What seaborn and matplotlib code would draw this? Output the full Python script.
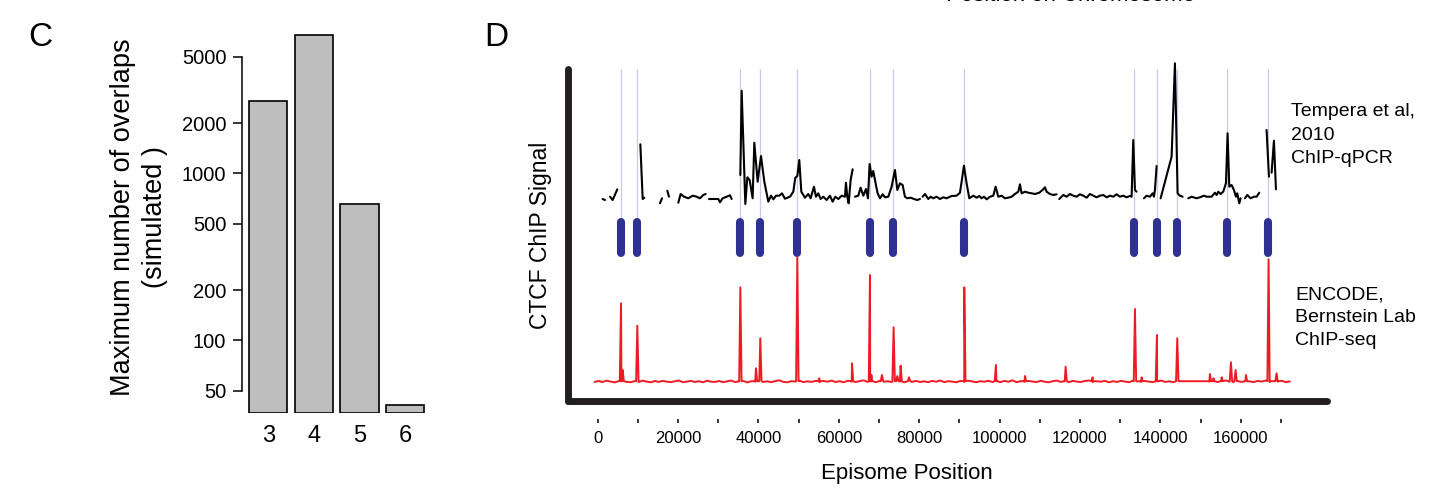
import numpy as np
import pandas as pd
import matplotlib
matplotlib.use("Agg")
import matplotlib.pyplot as plt
from matplotlib.ticker import NullLocator
import seaborn as sns

# ---------------- Panel C data ----------------
overlap_k = ["3", "4", "5", "6"]
max_overlaps = [2700, 6750, 660, 41]
c_yticks = [50, 100, 200, 500, 1000, 2000, 5000]

# ---------------- Panel D data ----------------
# CTCF site positions (kb)
ctcf_sites_kb = [5.87, 9.85, 35.48, 40.46, 49.66, 67.67, 73.55, 91.06,
                 133.51, 139.08, 144.06, 156.50, 166.85]

nan = np.nan
# Tempera et al 2010 ChIP-qPCR (positions in kb, NaN = gap between segments)
qpcr_pos_kb = [
    1.23, 1.82, nan,
    3.06, 3.72, 4.88, nan,
    10.61, 11.19, 11.60, nan,
    15.50, 16.00, nan,
    17.32, 17.74, nan,
    20.06, 20.64, 21.47, 22.55, 23.63, 24.62, 25.45, 26.28, 26.86, nan,
    27.69, 30.01, 30.43, 31.09, 32.09, 32.92, 33.33, nan,
    35.49, 35.82, 36.73, 37.23, 37.81, 38.55, 38.97, 39.80, 40.63, 41.46,
    42.45, 43.12, 43.70, 44.36, 45.19, 45.85, 46.60, 47.84, 48.67, 49.17,
    49.67, 50.16, 50.66, 51.57, 52.40, 52.98, 53.81, 54.31, 54.89, 55.47,
    56.13, 56.96, 57.79, 58.46, 59.12, 59.87, 60.70, 61.53, 61.77, 62.10,
    62.44, 62.94, 63.43, nan,
    64.01, 64.84, 65.42, 66.09, 66.75, 67.25, 67.66, 68.16, 68.57, 69.07,
    69.65, 70.23, 70.90, 71.48, 72.31, 73.13, 73.96, 74.55, 75.21, 75.87,
    76.45, 77.03, 77.86, 78.69, 79.52, 80.18, nan,
    80.85, 81.43, 82.26, 82.84, 83.50, 84.33, 85.16, 85.99, 86.82, 88.06,
    89.31, 90.14, 90.55, 91.13, 91.79, 92.46, 93.45, 94.28, 94.94, 95.52,
    96.11, 96.77, 97.60, 98.43, 99.01, 99.67, 100.50, 101.33, 102.16, 103.00,
    103.82, 104.65, 105.07, 105.48, 106.31, 107.14, 107.97, 108.80, 109.88, 110.87,
    111.29, 111.70, 112.53, 113.36, 114.19, nan,
    114.85, 115.85, 116.68, 117.51, 118.34, 119.16, 119.99, 120.82, 121.65, 122.48,
    123.31, 124.14, 124.97, 125.80, 126.63, 127.46, 128.28, 129.12, 129.94, 130.77,
    131.60, 132.43, 132.85, 133.26, 133.68, 134.09, nan,
    135.92, 136.58, 137.41, 138.08, 138.41, 138.65, 139.07, nan,
    140.06, 142.80, 143.63, 144.29, 144.87, 145.54, nan,
    146.95, 147.78, 149.02, 149.85, 150.84, 151.51, 152.75, 153.58, 154.00, 154.41,
    154.99, 155.65, 156.32, 156.73, 157.15, 157.73, 158.31, 158.81, 159.14, 159.64,
    159.97, nan,
    161.04, 161.63, 162.45, 163.28, 163.95, 164.61, nan,
    166.43, 167.02, nan,
    167.68, 168.26, 168.76,
]
qpcr_signal = [
    1.10, 1.00, nan,
    1.33, 1.00, 2.07, nan,
    6.57, 1.10, 1.23, nan,
    0.67, 1.17, nan,
    1.93, 1.33, nan,
    0.73, 1.60, 1.33, 1.17, 1.43, 1.33, 1.17, 1.50, 1.60, nan,
    1.10, 1.10, 0.77, 1.17, 1.33, 1.47, 1.10, nan,
    3.50, 11.93, 0.60, 3.27, 3.00, 1.17, 6.73, 2.83, 5.40, 2.83,
    0.83, 1.43, 1.07, 1.43, 1.43, 1.67, 1.13, 1.33, 1.83, 3.23,
    3.40, 5.00, 1.83, 1.23, 1.60, 1.17, 2.33, 1.33, 1.67, 1.10,
    1.33, 1.00, 1.43, 0.83, 1.33, 1.10, 1.43, 1.33, 2.73, 1.33,
    0.67, 3.00, 4.07, nan,
    1.33, 1.43, 2.23, 1.43, 2.10, 1.17, 4.60, 3.33, 3.90, 2.83,
    1.67, 1.17, 1.57, 1.27, 1.33, 2.33, 4.00, 2.00, 2.67, 2.50,
    1.33, 1.17, 1.23, 1.10, 1.00, 1.10, nan,
    1.33, 1.60, 1.10, 1.33, 1.17, 1.33, 1.10, 1.27, 1.17, 1.40,
    1.43, 1.73, 2.83, 4.43, 2.67, 1.17, 1.43, 1.23, 1.40, 1.17,
    1.33, 1.07, 1.33, 1.43, 2.33, 1.33, 1.43, 1.17, 1.23, 1.33,
    1.60, 1.83, 2.57, 1.67, 1.83, 1.73, 1.67, 1.60, 1.73, 2.07,
    2.27, 1.83, 1.60, 1.50, 1.57, nan,
    1.10, 1.50, 1.33, 1.60, 1.43, 1.33, 1.57, 1.43, 1.23, 1.60,
    1.43, 1.27, 1.43, 1.50, 1.27, 1.43, 1.33, 1.57, 1.33, 1.43,
    1.27, 1.40, 1.33, 7.00, 2.00, 1.83, nan,
    1.17, 1.43, 1.33, 1.67, 1.33, 2.00, 4.40, nan,
    1.17, 5.33, 14.67, 1.67, 1.43, 1.33, nan,
    1.17, 1.33, 1.17, 1.27, 1.43, 1.33, 1.33, 1.73, 1.50, 1.83,
    1.60, 1.83, 2.67, 7.67, 2.33, 2.50, 2.00, 1.33, 1.67, 0.67,
    1.17, nan,
    1.17, 1.50, 1.17, 1.33, 1.33, 1.73, nan,
    8.00, 3.33, nan,
    3.73, 6.93, 2.07,
]

# ENCODE Bernstein Lab ChIP-seq: background read every 1 kb starting at -0.8 kb
seq_bg_start_kb = -0.8
seq_background = [
    0.30, 0.40, 0.30, 0.43, 0.34, 0.26, 0.38, 0.46, 0.31, 0.28,
    0.39, 0.29, 0.44, 0.34, 0.27, 0.40, 0.31, 0.42, 0.33, 0.29,
    0.37, 0.45, 0.28, 0.35, 0.41, 0.30, 0.38, 0.27, 0.43, 0.33,
    0.31, 0.40, 0.28, 0.37, 0.44, 0.29, 0.35, 0.41, 0.26, 0.38,
    0.33, 0.42, 0.30, 0.37, 0.28, 0.40, 0.47, 0.31, 0.27, 0.39,
    0.34, 0.43, 0.29, 0.37, 0.31, 0.41, 0.28, 0.40, 0.33, 0.44,
    0.30, 0.38, 0.27, 0.42, 0.34, 0.29, 0.40, 0.46, 0.31, 0.37,
    0.28, 0.41, 0.33, 0.38, 0.29, 0.44, 0.34, 0.27, 0.40, 0.31,
    0.42, 0.30, 0.37, 0.28, 0.41, 0.33, 0.45, 0.29, 0.38, 0.34,
    0.27, 0.40, 0.31, 0.43, 0.36, 0.28, 0.38, 0.33, 0.42, 0.30,
    0.37, 0.29, 0.41, 0.33, 0.47, 0.28, 0.38, 0.31, 0.40, 0.34,
    0.29, 0.42, 0.33, 0.27, 0.38, 0.44, 0.31, 0.37, 0.28, 0.41,
    0.34, 0.30, 0.40, 0.45, 0.29, 0.37, 0.33, 0.42, 0.27, 0.38,
    0.31, 0.41, 0.34, 0.28, 0.43, 0.36, 0.30, 0.40, 0.33, 0.29,
    0.38, 0.44, 0.31, 0.37, 0.28, nan,
    nan, nan, nan, nan, nan, nan, nan,
    0.34, 0.42, 0.30, 0.38, 0.46, 0.33, 0.28,
    0.40, 0.31, 0.43, 0.36, 0.29, 0.41, 0.34, 0.45, 0.30, 0.38,
    0.33, 0.42, 0.29, 0.36,
]
seq_peak_kb = [5.80, 6.21, 9.86, 35.49, 39.38, 40.46, 49.67, 55.14, 63.27, 67.75,
               68.10, 70.73, 73.63, 74.55, 75.37, 77.45, 91.21, 99.09, 106.31, 116.43,
               123.15, 133.68, 135.34, 139.15, 144.21, 152.33, 153.20, 155.24, 157.56, 158.72,
               161.29, 166.93, 168.92]
seq_peak_height = [8.17, 1.50, 5.93, 9.77, 1.67, 4.67, 12.77, 0.67, 2.17, 11.00,
                   1.00, 1.00, 5.77, 0.90, 1.93, 0.77, 9.77, 2.00, 0.90, 1.83,
                   0.77, 7.60, 0.77, 5.00, 4.67, 1.10, 0.67, 0.77, 2.27, 1.50,
                   1.00, 12.57, 1.17]
seq_peak_base = 0.38

x_ticks_bp = [0, 10000, 20000, 30000, 40000, 50000, 60000, 70000, 80000,
              90000, 100000, 110000, 120000, 130000, 140000, 150000, 160000, 170000]
x_tick_labels = ["0", "", "20000", "", "40000", "", "60000", "", "80000",
                 "", "100000", "", "120000", "", "140000", "", "160000", ""]

# ---------------- style ----------------
sns.set_style("ticks")
plt.rcParams["font.family"] = ["Liberation Sans", "DejaVu Sans"]
plt.rcParams["text.color"] = "black"
plt.rcParams["axes.labelcolor"] = "black"
plt.rcParams["xtick.color"] = "black"
plt.rcParams["ytick.color"] = "black"
plt.rcParams["axes.edgecolor"] = "black"

W, H = 1437, 495
fig = plt.figure(figsize=(W / 100, H / 100), dpi=100)


def fx(px):
    return px / W


def fy(py):
    return 1 - py / H


# ---------------- Panel C ----------------
axc = fig.add_axes([fx(242), fy(412.7), fx(430) - fx(242), fy(30) - fy(412.7)])
dfc = pd.DataFrame({"k": overlap_k, "n": max_overlaps})
sns.barplot(data=dfc, x="k", y="n", ax=axc, color="#bebebe", saturation=1,
            edgecolor="black", linewidth=1.2, width=0.838, log_scale=True)
c_ylow, c_yhigh = 36.9, 7227
for p in axc.patches:
    top = p.get_y() + p.get_height()
    p.set_y(c_ylow)
    p.set_height(top - c_ylow)
axc.set_ylim(c_ylow, c_yhigh)
axc.set_xlim(-0.574, 3.54)
axc.set_yticks(c_yticks)
axc.set_yticklabels([str(t) for t in c_yticks])
axc.yaxis.set_minor_locator(NullLocator())
for s in ["top", "right", "bottom"]:
    axc.spines[s].set_visible(False)
axc.spines["left"].set_bounds(50, 5000)
axc.spines["left"].set_linewidth(1.1)
axc.tick_params(axis="y", length=6.3, width=1.1, labelsize=14.5, pad=5, left=True)
axc.tick_params(axis="x", length=0, labelsize=17, pad=9)
axc.set_xlabel("")
axc.set_ylabel("")
fig.text(fx(139), fy(217.5), "Maximum number of overlaps\n(simulated )",
         rotation=90, ha="center", va="center", multialignment="center",
         fontsize=19.5, linespacing=1.25)
fig.text(fx(40), fy(37), "C", ha="center", va="center", fontsize=24)

# ---------------- Panel D ----------------
XMIN, XMAX = -7390, 181340
D_LEFT, D_RIGHT = 568, 1326.5
axd = fig.add_axes([fx(D_LEFT), fy(401), fx(D_RIGHT) - fx(D_LEFT), fy(68.5) - fy(401)])
axd.set_xlim(XMIN, XMAX)
axd.set_ylim(0, 1)
axd.patch.set_alpha(0)
for s in ["top", "right"]:
    axd.spines[s].set_visible(False)
for s in ["left", "bottom"]:
    axd.spines[s].set_linewidth(5.0)
    axd.spines[s].set_color("#231f20")
    axd.spines[s].set_capstyle("round")
axd.tick_params(left=False, bottom=False, labelleft=False, labelbottom=False)

sites_bp = np.array(ctcf_sites_kb) * 1000
axd.vlines(sites_bp, 0.5504, 1.0, color="#c9c9e8", lw=0.9, zorder=1)
axd.vlines(sites_bp, 0.4451, 0.5383, color="#2e3192", lw=5.8, capstyle="round", zorder=3)

sec = axd.secondary_xaxis(-0.0541)
sec.spines["bottom"].set_visible(False)
sec.set_xticks(x_ticks_bp)
sec.set_xticklabels(x_tick_labels)
sec.tick_params(axis="x", direction="out", length=3.0, width=1.1, labelsize=12, pad=5.5,
                bottom=True, color="black", labelcolor="black")

# qPCR track
axb = fig.add_axes([fx(D_LEFT), fy(210), fx(D_RIGHT) - fx(D_LEFT), fy(60) - fy(210)])
axb.patch.set_alpha(0)
qpos = np.array(qpcr_pos_kb, dtype=float) * 1000
qsig = np.array(qpcr_signal, dtype=float)
seg = np.cumsum(np.isnan(qpos))
dfq = pd.DataFrame({"pos": qpos, "signal": qsig, "seg": seg}).dropna()
sns.lineplot(data=dfq, x="pos", y="signal", units="seg", estimator=None, sort=False,
             color="black", lw=1.5, ax=axb, legend=False)
axb.set_xlim(XMIN, XMAX)
axb.set_ylim(0, 15)
axb.axis("off")

# ChIP-seq track
axr = fig.add_axes([fx(D_LEFT), fy(385), fx(D_RIGHT) - fx(D_LEFT), fy(255) - fy(385)])
axr.patch.set_alpha(0)
bg = np.array(seq_background, dtype=float)
bg_pos = seq_bg_start_kb + np.arange(len(bg)) * 1.0
pk = np.array(seq_peak_kb)
pk_h = np.array(seq_peak_height)
r_pos = np.concatenate([bg_pos, pk - 0.3, pk, pk + 0.3])
r_val = np.concatenate([bg, np.full(len(pk), seq_peak_base), pk_h, np.full(len(pk), seq_peak_base)])
dfr = pd.DataFrame({"pos": r_pos * 1000, "signal": r_val}).dropna().sort_values("pos")
sns.lineplot(data=dfr, x="pos", y="signal", estimator=None, sort=True,
             color="#ed1c24", lw=1.4, ax=axr, legend=False)
axr.set_xlim(XMIN, XMAX)
axr.set_ylim(0, 13)
axr.axis("off")

fig.text(fx(1291), fy(103), "Tempera et al,\n2010\nChIP-qPCR", ha="left", va="top",
         fontsize=14, linespacing=1.5)
fig.text(fx(1295), fy(286.5), "ENCODE,\nBernstein Lab\nChIP-seq", ha="left", va="top",
         fontsize=14, linespacing=1.45)
fig.text(fx(541), fy(235), "CTCF ChIP Signal", rotation=90, ha="center", va="center",
         fontsize=16.5)
fig.text(fx(907), fy(473), "Episome Position", ha="center", va="center", fontsize=16)
fig.text(fx(496), fy(37), "D", ha="center", va="center", fontsize=24)
fig.text(fx(1070), 1 - 0.8 / H, "Position on Chromosome", ha="center", va="baseline",
         fontsize=16)

fig.savefig("out.png", dpi=100)
